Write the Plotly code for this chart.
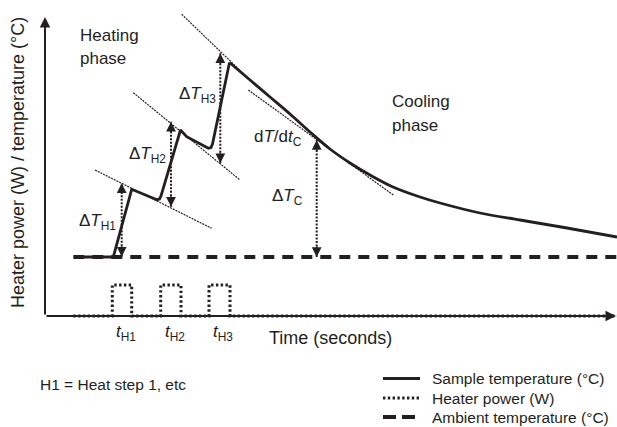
import plotly.graph_objects as go

# ---- schematic data (arbitrary units: time in s, value in W / degC) ----
# heating phase (three heat steps)
heat_time = [2.9, 6.83, 8.67, 9.2, 10.0, 10.8, 11.2, 11.45, 11.6, 13.55, 14.17, 16.33, 16.6, 16.75, 18.45]
heat_temp = [5.9, 5.9, 12.67, 12.45, 12.1, 11.75, 11.63, 11.7, 12.0, 18.6, 17.93, 16.77, 16.85, 17.2, 25.35]
# cooling phase
cool_time = [18.45, 20.5, 22.5, 24.5, 26.5, 28.5, 30.5, 32.5, 34.8, 37.5, 39.5, 43.5, 47.5, 52.2, 57.2]
cool_temp = [25.35, 23.6, 21.9, 20.2, 18.4, 16.7, 15.3, 14.1, 12.9, 11.9, 11.3, 10.3, 9.6, 8.8, 7.9]

ambient_time = [2.83, 57.2]
ambient_temp = [5.9, 5.9]

heater_time = [2.83, 6.73, 6.73, 8.67, 8.67, 11.57, 11.57, 13.6, 13.6, 16.4, 16.4, 18.5, 18.5, 57.2]
heater_power = [0, 0, 3.1, 3.1, 0, 0, 3.1, 3.1, 0, 0, 3.1, 3.1, 0, 0]

# tangent lines (start / end)
tangent_t0 = [5.0, 8.83, 13.67, 20.33]
tangent_v0 = [14.6, 22.33, 30.17, 22.6]
tangent_t1 = [16.67, 19.5, 20.5, 34.83]
tangent_v1 = [8.77, 13.6, 23.6, 12.1]

# delta-T double arrows
delta_t = [7.67, 12.6, 17.53, 27.17]
delta_low = [5.93, 10.93, 15.27, 5.9]
delta_high = [13.27, 19.43, 26.27, 17.6]
delta_labels = ["Δ<i>T</i><sub>H1</sub>", "Δ<i>T</i><sub>H2</sub>", "Δ<i>T</i><sub>H3</sub>", "Δ<i>T</i><sub>C</sub>"]
delta_label_x = [3.17, 8.17, 13.17, 22.5]
delta_label_y = [9.4, 16.1, 22.1, 11.9]

step_times = [8.08, 13.0, 17.8]
step_labels = ["<i>t</i><sub>H1</sub>", "<i>t</i><sub>H2</sub>", "<i>t</i><sub>H3</sub>"]

# manual legend
legend_labels = ["Sample temperature (°C)", "Heater power (W)", "Ambient temperature (°C)"]
legend_rows = [-6.25, -8.2, -10.1]
legend_line_x = [33.8, 37.5]
legend_text_x = 38.5

x_max = 57.1
y_max = 29.9

INK = "#231f20"
FONT = "Liberation Sans, Arial, sans-serif"

styles = [dict(color=INK, width=2.8),
          dict(color=INK, width=3, dash="2.4px,2.4px"),
          dict(color=INK, width=4, dash="13px,6px")]

fig = go.Figure()

# tangents
for a, b, c, d in zip(tangent_t0, tangent_v0, tangent_t1, tangent_v1):
    fig.add_trace(go.Scatter(x=[a, c], y=[b, d], mode="lines", showlegend=False,
                             line=dict(color=INK, width=1.2, dash="2px,1px"), hoverinfo="skip"))

# delta arrows shafts
for xt, lo, hi in zip(delta_t, delta_low, delta_high):
    fig.add_trace(go.Scatter(x=[xt, xt], y=[lo, hi], mode="lines", showlegend=False,
                             line=dict(color=INK, width=2, dash="2px,1.5px"), hoverinfo="skip"))

fig.add_trace(go.Scatter(x=ambient_time, y=ambient_temp, mode="lines", name=legend_labels[2],
                         line=dict(color=INK, width=4, dash="11px,8px"), showlegend=False, hoverinfo="skip"))
fig.add_trace(go.Scatter(x=heat_time, y=heat_temp, mode="lines", name=legend_labels[0],
                         line=styles[0], showlegend=False, hoverinfo="skip"))
fig.add_trace(go.Scatter(x=cool_time, y=cool_temp, mode="lines", name=legend_labels[0],
                         line=dict(color=INK, width=2.8, shape="spline", smoothing=1.0),
                         showlegend=False, hoverinfo="skip"))

ann = []
# axes arrows
ann.append(dict(x=0, y=y_max, ax=0, ay=0, axref="x", ayref="y", xref="x", yref="y", text="",
                showarrow=True, arrowhead=2, arrowwidth=2, arrowsize=1.05, arrowcolor=INK))
ann.append(dict(x=x_max, y=0, ax=0, ay=0, axref="x", ayref="y", xref="x", yref="y", text="",
                showarrow=True, arrowhead=2, arrowwidth=2, arrowsize=1.05, arrowcolor=INK))

fig.add_trace(go.Scatter(x=heater_time, y=heater_power, mode="lines", name=legend_labels[1],
                         line=styles[1], showlegend=False, hoverinfo="skip"))

# legend samples
for lab, row, st in zip(legend_labels, legend_rows, styles):
    fig.add_trace(go.Scatter(x=legend_line_x, y=[row, row], mode="lines", name=lab,
                             line=st, showlegend=False, hoverinfo="skip"))

# delta arrowheads
for xt, lo, hi in zip(delta_t, delta_low, delta_high):
    ann.append(dict(x=xt, y=hi, ax=0, ay=12, xref="x", yref="y", text="", showarrow=True,
                    arrowhead=2, arrowwidth=1.5, arrowsize=1.3, arrowcolor=INK))
    ann.append(dict(x=xt, y=lo, ax=0, ay=-12, xref="x", yref="y", text="", showarrow=True,
                    arrowhead=2, arrowwidth=1.5, arrowsize=1.3, arrowcolor=INK))

lab_font = dict(family=FONT, size=17, color=INK)
for txt, lx, ly in zip(delta_labels, delta_label_x, delta_label_y):
    ann.append(dict(x=lx, y=ly, xref="x", yref="y", text=txt, showarrow=False,
                    xanchor="left", yanchor="middle", font=lab_font))
ann.append(dict(x=20.67, y=17.8, xref="x", yref="y", text="d<i>T</i>/d<i>t</i><sub>C</sub>",
                showarrow=False, xanchor="left", yanchor="middle", font=lab_font))
for txt, st in zip(step_labels, step_times):
    ann.append(dict(x=st, y=-1.7, xref="x", yref="y", text=txt, showarrow=False,
                    xanchor="center", yanchor="middle", font=lab_font))

ann.append(dict(x=3.27, y=28.1, xref="x", yref="y", text="Heating", showarrow=False,
                xanchor="left", yanchor="middle", font=lab_font))
ann.append(dict(x=3.27, y=25.8, xref="x", yref="y", text="phase", showarrow=False,
                xanchor="left", yanchor="middle", font=lab_font))
ann.append(dict(x=34.5, y=21.5, xref="x", yref="y", text="Cooling", showarrow=False,
                xanchor="left", yanchor="middle", font=lab_font))
ann.append(dict(x=34.5, y=19.1, xref="x", yref="y", text="phase", showarrow=False,
                xanchor="left", yanchor="middle", font=lab_font))
ann.append(dict(x=22.17, y=-2.15, xref="x", yref="y", text="Time (seconds)", showarrow=False,
                xanchor="left", yanchor="middle", font=dict(family=FONT, size=18, color=INK)))
ann.append(dict(x=-2.7, y=15.3, xref="x", yref="y", text="Heater power (W) / temperature (°C)",
                showarrow=False, textangle=-90, xanchor="center", yanchor="middle",
                font=dict(family=FONT, size=18, color=INK)))
ann.append(dict(x=-0.67, y=-6.8, xref="x", yref="y", text="H1 = Heat step 1, etc", showarrow=False,
                xanchor="left", yanchor="middle", font=dict(family=FONT, size=15.5, color=INK)))
for lab, row in zip(legend_labels, legend_rows):
    ann.append(dict(x=legend_text_x, y=row, xref="x", yref="y", text=lab, showarrow=False,
                    xanchor="left", yanchor="middle", font=dict(family=FONT, size=15.5, color=INK)))

fig.update_layout(
    width=617, height=427, autosize=False,
    margin=dict(l=0, r=0, t=0, b=0),
    paper_bgcolor="white", plot_bgcolor="white",
    xaxis=dict(range=[-4.5, 57.2], visible=False, fixedrange=True),
    yaxis=dict(range=[-11.1, 31.6], visible=False, fixedrange=True),
    annotations=ann,
    showlegend=False,
    hovermode=False,
)

fig.write_html("out.html", config={"displayModeBar": False},
               post_script="document.body.style.margin='0';document.body.style.overflow='hidden';")
